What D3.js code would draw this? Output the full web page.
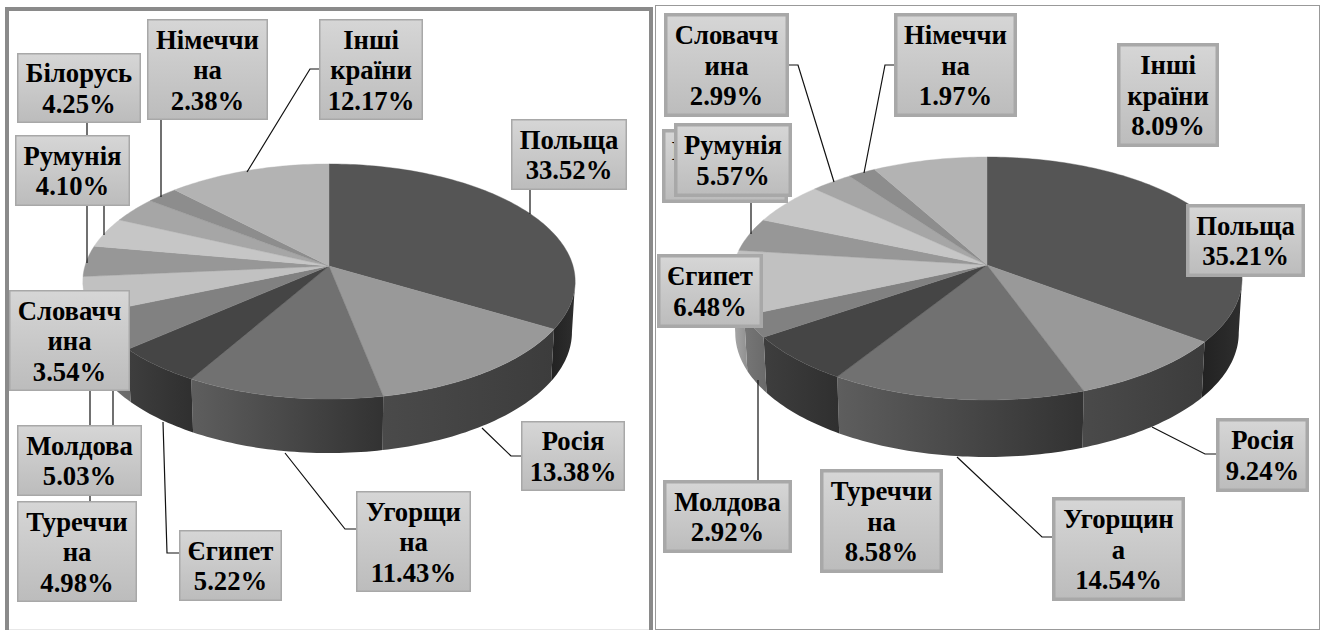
<!DOCTYPE html>
<html>
<head>
<meta charset="utf-8">
<script src="https://cdn.jsdelivr.net/npm/d3@7"></script>
<style>
  html, body { margin: 0; padding: 0; background: #fff; }
  svg { display: block; }
</style>
</head>
<body>
<div id="chart"></div>
<script>
// Two 3-D pies, shares of eleven destination groups. Both pies keep the same
// slice order, so a country has the same colour in each.
const NAMES_LEFT = ["Польща", "Росія", "Угорщи\nна", "Єгипет", "Молдова", "Туреччи\nна",
  "Білорусь", "Румунія", "Словачч\nина", "Німеччи\nна", "Інші\nкраїни"];
const LEFT_VALUES = [33.52, 13.38, 11.43, 5.22, 5.03, 4.98, 4.25, 4.10, 3.54, 2.38, 12.17];

// Білорусь is nearly hidden behind Румунія in the picture; its share is what
// is left of 100%.
const NAMES_RIGHT = ["Польща", "Росія", "Угорщин\nа", "Єгипет", "Молдова", "Туреччи\nна",
  "Білорусь", "Румунія", "Словачч\nина", "Німеччи\nна", "Інші\nкраїни"];
const RIGHT_VALUES = [35.21, 9.24, 14.54, 6.48, 2.92, 8.58, 4.41, 5.57, 2.99, 1.97, 8.09];

// Colours per slice slot
const TOP_COLORS = ["#555555", "#999999", "#717171", "#454545", "#818181", "#c1c1c1",
  "#979797", "#c6c6c6", "#a6a6a6", "#8d8d8d", "#b3b3b3"];
const WALL_COLORS = [["#222222", "#2e2e2e"], ["#4a4a4a", "#3c3c3c"], ["#5e5e5e", "#323232"],
  ["#3e3e3e", "#2f2f2f"], ["#767676", "#6a6a6a"], ["#aaaaaa", "#909090"]];

// Label boxes [x0, y0, x1, y1] by slice slot, and leader polylines
const LEFT_BOXES = [[511, 119, 627, 190], [521, 421, 625, 491], [356, 491, 471, 592],
  [179, 530, 282, 601], [17, 425, 142, 496], [17, 501, 137, 602], [17, 53, 141, 123],
  [15, 135, 130, 206], [9, 290, 130, 391], [147, 19, 268, 120], [319, 19, 423, 120]];
const LEFT_LEADERS = [[[530, 190], [530, 214]], [[521, 456], [511, 456], [482, 428]],
  [[356, 529], [345, 529], [285, 453]], [[179, 553], [167, 553], [163, 422]],
  [[90, 501], [90, 350]], [[113, 425], [113, 350]], [[87, 123], [87, 263]],
  [[104, 206], [104, 235]], [[161, 120], [161, 197]], [[319, 69], [310, 69], [247, 172]]];

const RIGHT_BOXES = [[1186, 204, 1305, 277], [1216, 418, 1309, 492], [1052, 497, 1185, 601],
  [657, 254, 763, 328], [663, 480, 792, 553], [820, 469, 943, 573], [662, 129, 788, 203],
  [674, 123, 792, 197], [664, 13, 789, 117], [894, 13, 1017, 117], [1117, 43, 1219, 147]];
const RIGHT_LEADERS = [[[1216, 454], [1205, 454], [1152, 427]], [[1052, 537], [1042, 537], [957, 457]],
  [[758, 480], [758, 380]], [[751, 203], [751, 234]], [[789, 65], [798, 65], [834, 182]],
  [[894, 65], [885, 65], [864, 173]]];

const width = 1323;
const height = 630;

const svg = d3.select("#chart").append("svg")
  .attr("width", width)
  .attr("height", height);
const defs = svg.append("defs");

const labelGrad = defs.append("linearGradient")
  .attr("id", "label-fill")
  .attr("x1", 0).attr("y1", 0).attr("x2", 0).attr("y2", 1);
labelGrad.append("stop").attr("offset", 0).attr("stop-color", "#d6d6d6");
labelGrad.append("stop").attr("offset", 1).attr("stop-color", "#bcbcbc");

WALL_COLORS.forEach(([from, to], i) => {
  const grad = defs.append("linearGradient").attr("id", `wall-${i}`);
  grad.append("stop").attr("offset", 0).attr("stop-color", from);
  grad.append("stop").attr("offset", 1).attr("stop-color", to);
});

// frames: the left one runs off the bottom, with only a faint closing line
svg.append("path").attr("d", "M5,629.5H651")
  .attr("fill", "none").attr("stroke", "#e8e8e8").attr("stroke-width", 1);
svg.append("path").attr("d", "M7,630V9H651V630")
  .attr("fill", "none").attr("stroke", "#8a8a8a").attr("stroke-width", 4);
svg.append("rect").attr("x", 655.5).attr("y", 5.5).attr("width", 664).attr("height", 624)
  .attr("fill", "none").attr("stroke", "#999").attr("stroke-width", 1);

const pie = d3.pie().sort(null).value((d) => d);
const line = d3.line();

// The disc is a perspective view of a circle: near edge larger than far edge,
// so the apex sits above the middle of the drawn ellipse.
function drawPie(values, names, boxes, leaders, cfg) {
  const { apexX, apexY, sx, sy, k, depth, depthFront, border } = cfg;
  const scaleX = d3.scaleLinear().domain([0, 1]).range([apexX, apexX + sx]);
  const scaleY = d3.scaleLinear().domain([0, 1]).range([apexY, apexY + sy]);

  function topPoint(t) {
    const u = Math.sin(t);
    const v = -Math.cos(t);
    const w = 1 - k * v;
    return [scaleX(u / w), scaleY(v / w)];
  }
  function bottomPoint(t) {
    const [x, y] = topPoint(t);
    const v = -Math.cos(t);
    return [apexX + (x - apexX) * 0.987, y + depth + depthFront * v];
  }
  function arcPoints(a0, a1, fn) {
    const n = Math.max(2, Math.ceil((a1 - a0) / 0.02));
    return d3.range(n + 1).map((i) => fn(a0 + (a1 - a0) * i / n));
  }

  const arcs = pie(values);
  const g = svg.append("g");

  // walls, only the visible near half of the rim
  const rimStart = Math.acos(-k);
  const rimEnd = 2 * Math.PI - rimStart;
  arcs.forEach((a, i) => {
    const a0 = Math.max(a.startAngle, rimStart);
    const a1 = Math.min(a.endAngle, rimEnd);
    if (a1 <= a0) return;
    const pts = arcPoints(a0, a1, topPoint).concat(arcPoints(a0, a1, bottomPoint).reverse());
    g.append("path")
      .attr("d", line(pts) + "Z")
      .attr("fill", `url(#wall-${i})`);
  });

  // top faces
  arcs.forEach((a, i) => {
    const pts = [[apexX, apexY]].concat(arcPoints(a.startAngle, a.endAngle, topPoint));
    g.append("path")
      .attr("d", line(pts) + "Z")
      .attr("fill", TOP_COLORS[i])
      .attr("stroke", TOP_COLORS[i])
      .attr("stroke-width", 0.4);
  });

  // leader lines
  leaders.forEach((pts) => {
    g.append("path")
      .attr("d", line(pts))
      .attr("fill", "none")
      .attr("stroke", "#111")
      .attr("stroke-width", 1.2);
  });

  // labels
  names.forEach((name, i) => {
    const [x0, y0, x1, y1] = boxes[i];
    const label = g.append("g");
    label.append("rect")
      .attr("x", x0 + border / 2)
      .attr("y", y0 + border / 2)
      .attr("width", x1 - x0 - border)
      .attr("height", y1 - y0 - border)
      .attr("fill", "url(#label-fill)")
      .attr("stroke", "#a8a8a8")
      .attr("stroke-width", border);

    const rows = [...name.split("\n"), `${values[i].toFixed(2)}%`];
    const cx = (x0 + x1) / 2;
    const cy = (y0 + y1) / 2;
    rows.forEach((row, r) => {
      label.append("text")
        .attr("x", cx)
        .attr("y", cy + (r - (rows.length - 1) / 2) * 30.5 + 9.5)
        .attr("text-anchor", "middle")
        .style("font-family", "'Liberation Serif'")
        .style("font-weight", "bold")
        .style("font-size", "26.7px")
        .text(row);
    });
  });
}

drawPie(LEFT_VALUES, NAMES_LEFT, LEFT_BOXES, LEFT_LEADERS, {
  apexX: 329, apexY: 266, sx: 244, sy: 115.5, k: 0.132, depth: 50, depthFront: 4, border: 1.5,
});
drawPie(RIGHT_VALUES, NAMES_RIGHT, RIGHT_BOXES, RIGHT_LEADERS, {
  apexX: 987, apexY: 265, sx: 253.5, sy: 120, k: 0.111, depth: 54, depthFront: 3, border: 3.5,
});
</script>
</body>
</html>
